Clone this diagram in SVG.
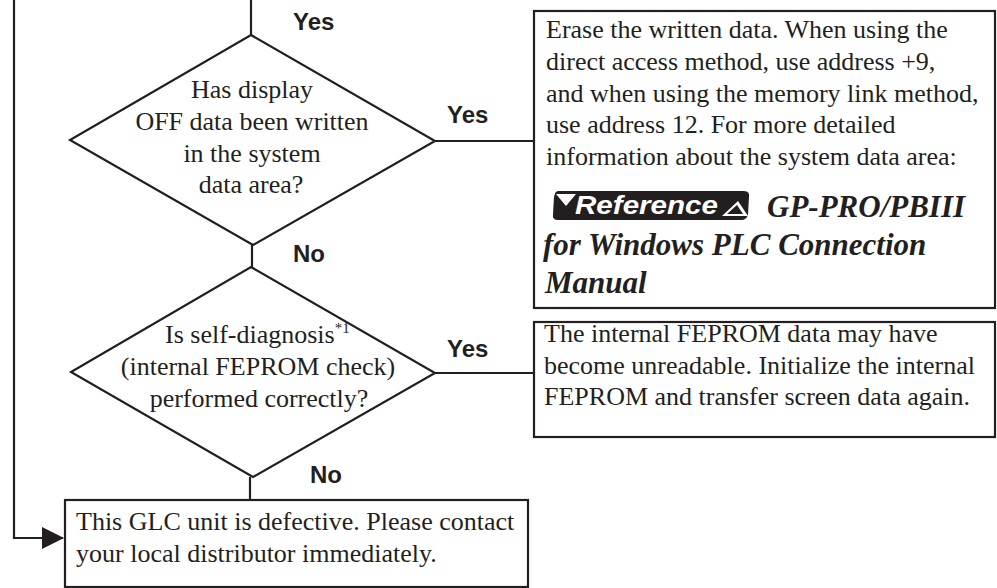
<svg xmlns="http://www.w3.org/2000/svg" width="997" height="588" viewBox="0 0 997 588">
<style>
.ln{stroke:#231f20;stroke-width:2.2;fill:none}
.bx{stroke:#231f20;stroke-width:2.2;fill:#fff}
.t{font-family:"Liberation Serif","Times New Roman",serif;font-size:26px;fill:#231f20}
.c{text-anchor:middle}
.lb{font-family:"Liberation Sans",Arial,sans-serif;font-size:24px;font-weight:bold;fill:#231f20}
.bi{font-family:"Liberation Serif","Times New Roman",serif;font-size:31px;font-weight:bold;font-style:italic;fill:#231f20}
</style>
<defs>
<marker id="ah" markerWidth="22" markerHeight="22" refX="21" refY="11" orient="auto" markerUnits="userSpaceOnUse">
<path d="M0,0 L22,11 L0,22 Z" fill="#231f20"/>
</marker>
</defs>
<rect width="997" height="588" fill="#fff"/>
<g id="connectors">
<line class="ln" x1="251" y1="0" x2="251" y2="35"/>
<line class="ln" x1="252" y1="245" x2="252" y2="267"/>
<line class="ln" x1="435" y1="141" x2="534" y2="141"/>
<line class="ln" x1="435" y1="373" x2="534" y2="373"/>
<line class="ln" x1="250" y1="477" x2="250" y2="500"/>
<polyline class="ln" points="14,0 14,538 63,538" marker-end="url(#ah)"/>
<text class="lb" x="293" y="30">Yes</text>
<text class="lb" x="447" y="123">Yes</text>
<text class="lb" x="293" y="262">No</text>
<text class="lb" x="447" y="357">Yes</text>
<text class="lb" x="310" y="483">No</text>
</g>
<g id="decision1">
<polygon class="bx" points="251,35 435,141 253,245 70,140"/>
<text class="t c" x="252" y="98">Has display</text>
<text class="t c" x="252" y="130">OFF data been written</text>
<text class="t c" x="252" y="162">in the system</text>
<text class="t c" x="251" y="193">data area?</text>
</g>
<g id="decision2">
<polygon class="bx" points="251,267 435,373 253,477 71,372"/>
<text class="t" x="165" y="343">Is self-diagnosis<tspan font-size="15" dy="-10">*1</tspan></text>
<text class="t c" x="258" y="375">(internal FEPROM check)</text>
<text class="t c" x="259" y="407">performed correctly?</text>
</g>
<g id="box1">
<rect class="bx" x="534" y="11" width="461" height="297"/>
<text class="t" x="546" y="38">Erase the written data. When using the</text>
<text class="t" x="546" y="70">direct access method, use address +9,</text>
<text class="t" x="546" y="102">and when using the memory link method,</text>
<text class="t" x="546" y="133">use address 12. For more detailed</text>
<text class="t" x="546" y="165">information about the system data area:</text>
<g id="refbadge">
<path d="M558,191 L744,191 Q750,191 749,197 L748,214 Q747,220 741,220 L558,220 Q552,220 553,214 L554,197 Q555,191 558,191 Z" fill="#231f20"/>
<polygon points="556,194 576,194 566,206" fill="#fff"/>
<polygon points="722,216 748,216 738,201" fill="#fff"/>
<polygon points="727,214 743,214 737,205" fill="#231f20"/>
<text x="575" y="214" textLength="143" lengthAdjust="spacingAndGlyphs" style="font-family:'Liberation Sans',Arial,sans-serif;font-size:25px;font-weight:bold;font-style:italic;fill:#fff">Reference</text>
</g>
<text class="bi" x="767" y="217">GP-PRO/PBIII</text>
<text class="bi" x="543" y="255">for Windows PLC Connection</text>
<text class="bi" x="545" y="293">Manual</text>
</g>
<g id="box2">
<rect class="bx" x="534" y="322" width="461" height="115"/>
<text class="t" x="544" y="342">The internal FEPROM data may have</text>
<text class="t" x="544" y="374">become unreadable. Initialize the internal</text>
<text class="t" x="544" y="405">FEPROM and transfer screen data again.</text>
</g>
<g id="box3">
<rect class="bx" x="65" y="500" width="463" height="87"/>
<text class="t" x="76" y="530">This GLC unit is defective. Please contact</text>
<text class="t" x="76" y="562">your local distributor immediately.</text>
</g>
</svg>
